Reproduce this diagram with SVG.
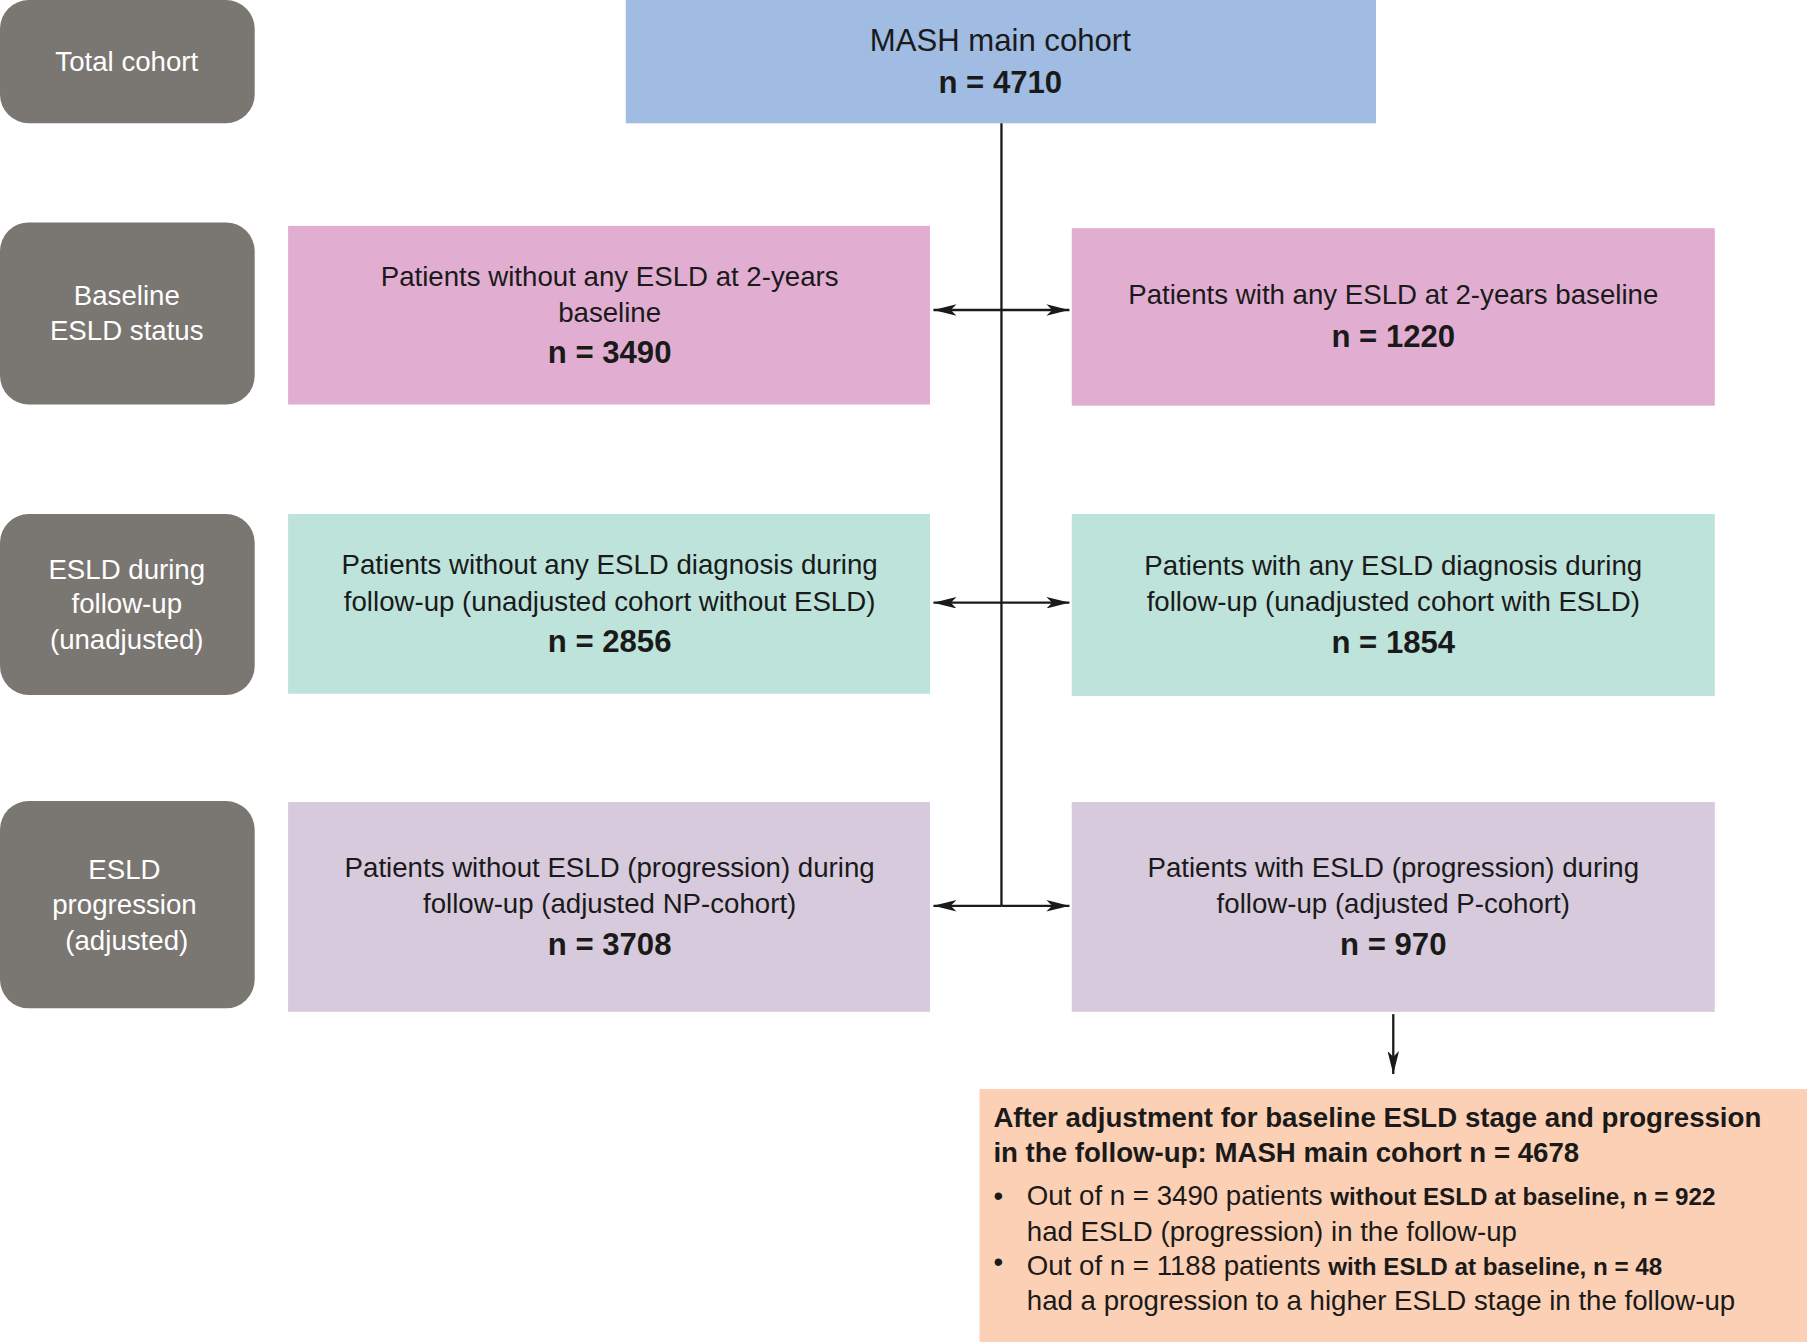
<svg xmlns="http://www.w3.org/2000/svg" width="1807" height="1342" viewBox="0 0 1807 1342">
<style>
.g{fill:#7a7672}
.t{font-family:"Liberation Sans",Arial,sans-serif;font-size:24px;fill:#1a1a1a;text-anchor:middle}
.w{fill:#fff}
.b{font-weight:bold;font-size:27px}
.l{stroke:#1a1a1a;stroke-width:2;fill:none}
.s{font-family:"Liberation Sans",Arial,sans-serif;font-size:24px;fill:#1a1a1a}
</style>
<defs><marker id="a" viewBox="0 0 10 10" refX="10" refY="5" markerWidth="10" markerHeight="10" markerUnits="userSpaceOnUse" orient="auto"><path d="M0,1L10,5L0,9z" fill="#1a1a1a"/></marker>
<marker id="a2" viewBox="0 0 20 10" refX="20" refY="5" markerWidth="20" markerHeight="10" markerUnits="userSpaceOnUse" orient="auto"><path d="M0,0L20,5L0,10L5,5z" fill="#1a1a1a"/></marker></defs>
<rect width="1807" height="1342" fill="#fff"/>
<g transform="scale(1.15242)">
<g id="lbl1"><rect class="g" x="0" y="0" width="221" height="107" rx="25"/><text class="t w" x="110" y="62">Total cohort</text></g>
<g id="lbl2"><rect class="g" x="0" y="193" width="221" height="158" rx="25"/><text class="t w" x="110" y="265">Baseline</text><text class="t w" x="110" y="295">ESLD status</text></g>
<g id="lbl3"><rect class="g" x="0" y="446" width="221" height="157" rx="25"/><text class="t w" x="110" y="502">ESLD during</text><text class="t w" x="110" y="532">follow-up</text><text class="t w" x="110" y="563">(unadjusted)</text></g>
<g id="lbl4"><rect class="g" x="0" y="695" width="221" height="180" rx="25"/><text class="t w" x="108" y="763">ESLD</text><text class="t w" x="108" y="793">progression</text><text class="t w" x="110" y="824">(adjusted)</text></g>
<g id="main"><rect x="543" y="0" width="651" height="107" fill="#a0bce3"/><text class="t" x="868" y="44" style="font-size:27px">MASH main cohort</text><text class="t b" x="868" y="81">n = 4710</text></g>
<g id="p1"><rect x="250" y="196" width="557" height="155" fill="#e1aed2"/><text class="t" x="529" y="248">Patients without any ESLD at 2-years</text><text class="t" x="529" y="279">baseline</text><text class="t b" x="529" y="315">n = 3490</text></g>
<g id="p2"><rect x="930" y="198" width="558" height="154" fill="#e1aed2"/><text class="t" x="1209" y="264">Patients with any ESLD at 2-years baseline</text><text class="t b" x="1209" y="301">n = 1220</text></g>
<g id="t1"><rect x="250" y="446" width="557" height="156" fill="#bde3da"/><text class="t" x="529" y="498">Patients without any ESLD diagnosis during</text><text class="t" x="529" y="530">follow-up (unadjusted cohort without ESLD)</text><text class="t b" x="529" y="566">n = 2856</text></g>
<g id="t2"><rect x="930" y="446" width="558" height="158" fill="#bde3da"/><text class="t" x="1209" y="499">Patients with any ESLD diagnosis during</text><text class="t" x="1209" y="530">follow-up (unadjusted cohort with ESLD)</text><text class="t b" x="1209" y="567">n = 1854</text></g>
<g id="v1"><rect x="250" y="696" width="557" height="182" fill="#d6cadc"/><text class="t" x="529" y="761">Patients without ESLD (progression) during</text><text class="t" x="529" y="792">follow-up (adjusted NP-cohort)</text><text class="t b" x="529" y="829">n = 3708</text></g>
<g id="v2"><rect x="930" y="696" width="558" height="182" fill="#d6cadc"/><text class="t" x="1209" y="761">Patients with ESLD (progression) during</text><text class="t" x="1209" y="792">follow-up (adjusted P-cohort)</text><text class="t b" x="1209" y="829">n = 970</text></g>
<g id="note"><rect x="850" y="945" width="718" height="220" fill="#fcd0b4"/>
<text class="s" x="862" y="978" font-weight="bold">After adjustment for baseline ESLD stage and progression</text>
<text class="s" x="862" y="1008" font-weight="bold">in the follow-up: MASH main cohort n = 4678</text>
<text class="s" x="862" y="1046">•</text><text class="s" x="891" y="1046">Out of n = 3490 patients <tspan font-weight="bold" font-size="21">without ESLD at baseline, n = 922</tspan></text>
<text class="s" x="891" y="1077">had ESLD (progression) in the follow-up</text>
<text class="s" x="862" y="1103">•</text><text class="s" x="891" y="1106">Out of n = 1188 patients <tspan font-weight="bold" font-size="21">with ESLD at baseline, n = 48</tspan></text>
<text class="s" x="891" y="1137">had a progression to a higher ESLD stage in the follow-up</text></g>
<g id="connectors">
<path class="l" d="M869,107V786"/>
<path class="l" d="M869,269H810" marker-end="url(#a2)"/><path class="l" d="M869,269H928" marker-end="url(#a2)"/>
<path class="l" d="M869,523H810" marker-end="url(#a2)"/><path class="l" d="M869,523H928" marker-end="url(#a2)"/>
<path class="l" d="M869,786H810" marker-end="url(#a2)"/><path class="l" d="M869,786H928" marker-end="url(#a2)"/>
<path class="l" d="M1209,880V932" marker-end="url(#a2)"/>
</g>
</g>
</svg>
